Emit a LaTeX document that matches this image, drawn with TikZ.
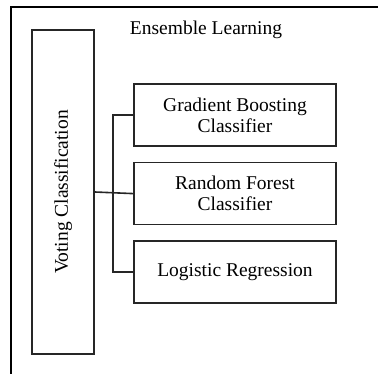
\documentclass[tikz,border=0pt]{standalone}
\usepackage{fontspec}
\setmainfont{Liberation Serif}
\usepackage{tikz}
\usetikzlibrary{positioning}
\tikzset{
  model/.style = {
    rectangle, draw=black!85, line width=1.6pt,
    minimum width=202pt, minimum height=62pt,
    align=center, inner sep=0pt
  },
  voter/.style = {
    rectangle, draw=black!85, line width=1.6pt,
    minimum width=62pt, minimum height=324pt,
    inner sep=0pt
  },
  link/.style  = {draw=black!85, line width=1.6pt},
  frame/.style = {draw=black, line width=2.2pt},
}

\begin{document}
\begin{tikzpicture}[
  x=1pt, y=-1pt,
  every node/.style = {font=\fontsize{19.5}{21}\selectfont}
]
  \useasboundingbox (0,0) rectangle (378,374);

  %% outer frame (top and left only)
  \coordinate (tl) at (11,7);
  \draw[frame] (378,7) -- (tl) -- (11,374);

  %% title
  \node (title) at (206,30) {Ensemble Learning};

  %% voting column
  \node[voter] (vote) at (63,192) {};
  \node[rotate=90] (votetxt) at (vote.center) {Voting Classification};

  %% base models
  \node[model] (gb) at (235,115) {Gradient Boosting\\Classifier};
  \node[model, below=15pt of gb] (rf) {Random Forest\\Classifier};
  \node[model, below=15pt of rf] (lr) {Logistic Regression};

  %% connectors
  \draw[link] (vote.east) -- (rf.west);
  \draw[link] (gb.west) -- ++(-20,0) |- (lr.west);

\end{tikzpicture}
\end{document}
